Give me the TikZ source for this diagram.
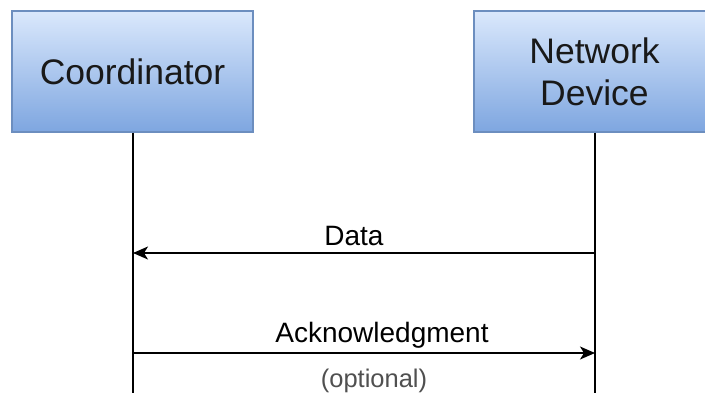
\documentclass[tikz,border=0pt]{standalone}
\usepackage{fontspec}
\setmainfont{Liberation Sans}
\usetikzlibrary{arrows.meta}
\definecolor{boxtop}{HTML}{DAE8FC}
\definecolor{boxbot}{HTML}{7EA6E0}
\definecolor{boxline}{HTML}{6C8EBF}
\definecolor{notegray}{HTML}{505050}
\tikzset{
  actor/.style={rectangle, draw=boxline, line width=1.2pt,
    top color=boxtop, bottom color=boxbot,
    minimum width=241pt, minimum height=121pt, inner sep=0pt,
    align=center, font=\fontsize{35.5}{42}\selectfont, text=black!90},
  lifeline/.style={line width=1.5pt, black},
  msg/.style={line width=1.5pt, black,
    -{Stealth[length=15pt, width=13pt, inset=4pt]}},
  msglabel/.style={anchor=base, inner sep=0pt, font=\fontsize{28}{32}\selectfont},
  notelabel/.style={anchor=base, inner sep=0pt, text=notegray,
    font=\fontsize{25.5}{28}\selectfont}
}
\begin{document}
\begin{tikzpicture}[x=1pt, y=-1pt]
  \useasboundingbox (0,0) rectangle (705,392);
  \clip (0,0) rectangle (705,392);
  \fill[white] (0,0) rectangle (705,392);

  % participants
  \node[actor] (coord) at (132.5,71.5) {Coordinator};
  \node[actor] (dev) at (594.5,71.5) {Network\\Device};

  % lifeline ends and message anchor points
  \coordinate (cend) at (133,400);
  \coordinate (dend) at (595,400);
  \coordinate (cdata) at (133,253);
  \coordinate (ddata) at (595,253);
  \coordinate (cack) at (133,353);
  \coordinate (dack) at (595,353);

  % lifelines
  \draw[lifeline] (coord.south -| cend) -- (cend);
  \draw[lifeline] (dev.south -| dend) -- (dend);

  % messages
  \draw[msg] (ddata) -- node[msglabel, xshift=-10pt, yshift=8pt] {Data} (cdata);
  \draw[msg] (cack) -- node[msglabel, xshift=18pt, yshift=11pt] {Acknowledgment}
    node[notelabel, xshift=10pt, yshift=-34pt] {(optional)} (dack);
\end{tikzpicture}
\end{document}
